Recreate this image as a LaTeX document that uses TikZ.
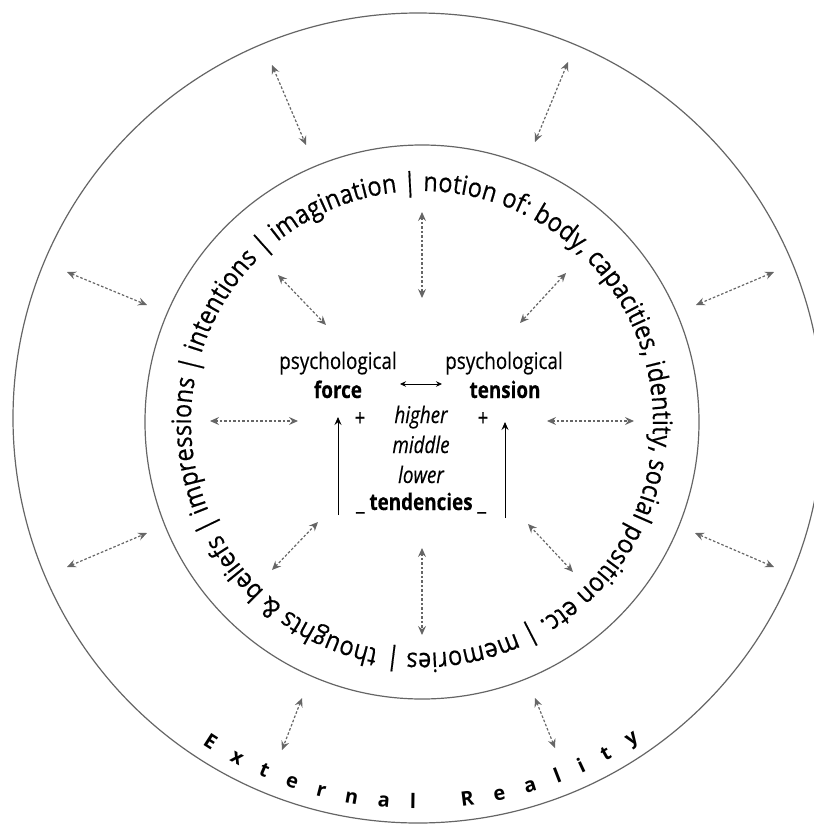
\documentclass[tikz,border=0pt]{standalone}
\usepackage{fontspec}
\setmainfont{Open Sans}
\newfontfamily\condfont[FakeStretch=0.82,FakeBold=0.3]{Open Sans}
\newfontfamily\ringfont[FakeStretch=0.88,FakeBold=0.5]{Open Sans}
\newfontfamily\realfont{Open Sans}
\usetikzlibrary{arrows.meta,decorations.text}
\definecolor{ringgray}{HTML}{656565}
\definecolor{linkgray}{HTML}{666666}
\newlength\ringnat
% width of the ring caption at 10pt, used to size it to the circle
\AtBeginDocument{%
  \settowidth\ringnat{\ringfont\fontsize{10}{12}\selectfont thoughts \& beliefs | impressions | intentions | imagination | notion of: body, capacities, identity, social position etc. | memories |}%
  \pgfmathsetmacro\ringsize{0.985*10*(1441/\ringnat)}%
  \global\let\ringsize\ringsize}
\tikzset{
  circleline/.style={draw=ringgray, line width=1.2pt},
  link/.style={draw=linkgray, line width=1.2pt, dash pattern=on 2.6pt off 1.9pt,
    {Stealth[length=9pt,width=8pt,inset=3.2pt]}-{Stealth[length=9pt,width=8pt,inset=3.2pt]}},
  push/.style={draw=black, line width=0.9pt, -{Stealth[length=8pt,width=7pt,inset=2.8pt]}},
  swap/.style={draw=black, line width=0.8pt,
    {Stealth[length=6pt,width=5.5pt,inset=2pt]}-{Stealth[length=6pt,width=5.5pt,inset=2pt]}},
  lbl/.style={anchor=base, inner sep=0pt, font=\condfont\fontsize{23}{23}\selectfont},
}
\begin{document}
\begin{tikzpicture}[x=1pt,y=1pt]
\useasboundingbox (0,0) rectangle (814,-825);

% the two circles
\coordinate (oc) at (418,-418);
\coordinate (ic) at (422,-422);
\draw[circleline] (oc) circle[radius=405pt];
\draw[circleline] (ic) circle[radius=277pt];

% caption running clockwise inside the inner circle
\path[decorate, decoration={text along path, text format delimiters={[}{]},
  text={[\ringfont\fontsize{\ringsize}{\ringsize}\selectfont]thoughts {\&} beliefs | impressions | intentions | imagination | notion of: body, capacities, identity, social position etc. | memories |},
  text align={fit to path}}]
  (ic) ++(-101:231pt) arc[start angle=-101, end angle=-458.5, radius=231pt];

% label along the bottom of the outer circle
\path[decorate, decoration={text along path, text format delimiters={[}{]},
  text={[\realfont\bfseries\fontsize{20}{20}\selectfont]External Reality},
  text align={fit to path}}]
  (oc) ++(-123.5:391pt) arc[start angle=-123.5, end angle=-55.5, radius=391pt];

% links between the outer ring and the inner circle
\coordinate (o1a) at (272,-65);  \coordinate (o1b) at (306,-145);
\coordinate (o2a) at (568,-62);  \coordinate (o2b) at (535,-142);
\coordinate (o3a) at (67,-272);  \coordinate (o3b) at (147,-305);
\coordinate (o4a) at (774,-272); \coordinate (o4b) at (696,-305);
\coordinate (o5a) at (67,-567);  \coordinate (o5b) at (147,-533);
\coordinate (o6a) at (774,-567); \coordinate (o6b) at (695,-533);
\coordinate (o7a) at (302,-698); \coordinate (o7b) at (282,-750);
\coordinate (o8a) at (535,-698); \coordinate (o8b) at (555,-748);
\foreach \k in {1,...,8} \draw[link] (o\k a) -- (o\k b);

% links inside the inner circle
\coordinate (i1a) at (422,-212); \coordinate (i1b) at (422,-298);
\coordinate (i2a) at (278,-275); \coordinate (i2b) at (326,-325);
\coordinate (i3a) at (566,-273); \coordinate (i3b) at (520,-323);
\coordinate (i4a) at (210,-421); \coordinate (i4b) at (298,-421);
\coordinate (i5a) at (547,-421); \coordinate (i5b) at (634,-421);
\coordinate (i6a) at (272,-570); \coordinate (i6b) at (318,-522);
\coordinate (i7a) at (573,-572); \coordinate (i7b) at (528,-524);
\coordinate (i8a) at (422,-548); \coordinate (i8b) at (422,-635);
\foreach \k in {1,...,8} \draw[link] (i\k a) -- (i\k b);

% centre
\node[lbl] (psyL) at (338,-369) {psychological};
\node[lbl] (force) at (338,-398) {\bfseries force};
\node[lbl] (psyR) at (504,-369) {psychological};
\node[lbl] (tension) at (505,-398) {\bfseries tension};
\node[lbl, anchor=center] (plusL) at (360,-419) {+};
\node[lbl, anchor=center] (plusR) at (483,-419) {+};
\node[lbl] (higher) at (421,-423) {\itshape higher};
\node[lbl] (middle) at (421,-453) {\itshape middle};
\node[lbl] (lower) at (421,-483) {\itshape lower};
\node[lbl] (tend) at (421,-510) {\_ \textbf{tendencies} \_};

\coordinate (swL) at (400,-384); \coordinate (swR) at (442,-384);
\draw[swap] (swL) -- (swR);
\coordinate (upLa) at (338,-515); \coordinate (upLb) at (338,-417);
\coordinate (upRa) at (505,-518); \coordinate (upRb) at (505,-422);
\draw[push] (upLa) -- (upLb);
\draw[push] (upRa) -- (upRb);
\end{tikzpicture}
\end{document}
